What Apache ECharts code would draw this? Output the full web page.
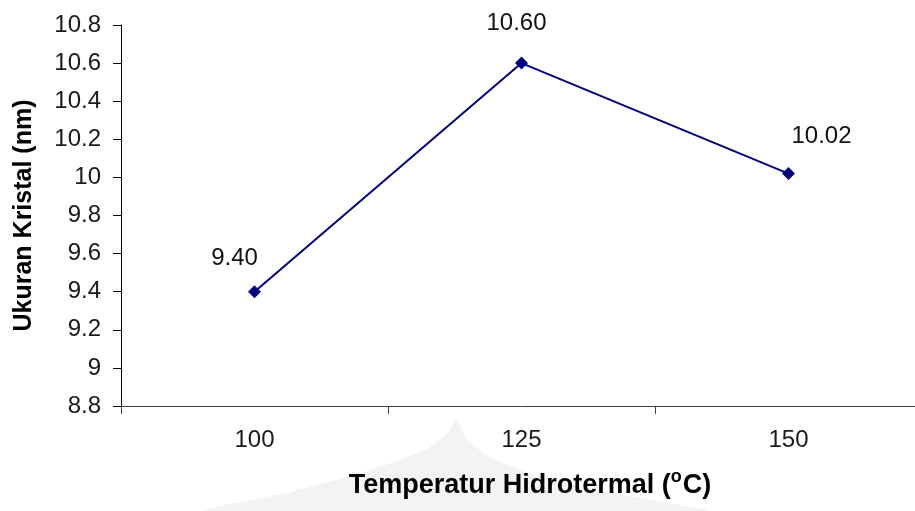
<!DOCTYPE html>
<html>
<head>
<meta charset="utf-8">
<script src="https://cdn.jsdelivr.net/npm/echarts@6/dist/echarts.min.js"></script>
<style>
  html, body { margin: 0; padding: 0; background: #ffffff; overflow: hidden; }
  /* plot area runs slightly past the right edge of the window */
  #chart { width: 922px; height: 511px; }
</style>
</head>
<body>
<div id="chart"></div>
<script>
// Hydrothermal temperature (°C) vs. crystal size (nm)
const categories = ['100', '125', '150'];
const crystalSize = [9.40, 10.60, 10.02];
const labelOffsets = [[-20, 0], [-5, -6], [33, -4]];

const chart = echarts.init(document.getElementById('chart'), null, { renderer: 'canvas' });

const font = '"Liberation Sans", Arial, sans-serif';

const seriesData = crystalSize.map((v, i) => ({
  value: v,
  label: { offset: labelOffsets[i] }
}));

chart.setOption({
  animation: false,
  backgroundColor: '#ffffff',
  grid: { left: 121, top: 25, bottom: 105, right: 0, containLabel: false },
  graphic: [{
    // faint emblem in the page background
    type: 'polygon',
    z: -10,
    silent: true,
    shape: {
      smooth: 0.25,
      points: [[457, 420], [466, 438], [495, 460], [560, 482], [640, 498], [705, 511],
               [205, 511], [290, 492], [370, 470], [425, 450], [447, 434]]
    },
    style: { fill: '#f3f3f3' }
  }],
  xAxis: {
    type: 'category',
    data: categories,
    boundaryGap: true,
    axisLine: { lineStyle: { color: '#404040', width: 1 } },
    axisTick: { show: true, length: 8, inside: false, lineStyle: { color: '#404040' } },
    axisLabel: { color: '#1a1a1a', fontFamily: font, fontSize: 24, margin: 22 },
    name: '{t|Temperatur Hidrotermal (}{sup|o}{t|C)}',
    nameLocation: 'middle',
    nameGap: 62,
    nameTextStyle: {
      color: '#000000',
      fontFamily: font,
      fontSize: 27,
      fontWeight: 'bold',
      padding: [0, 0, 0, 17],
      rich: {
        t: {
          fontFamily: font,
          fontSize: 27,
          fontWeight: 'bold',
          color: '#000000',
          lineHeight: 31,
          verticalAlign: 'bottom'
        },
        sup: {
          fontFamily: font,
          fontSize: 18,
          fontWeight: 'bold',
          color: '#000000',
          lineHeight: 18,
          verticalAlign: 'top',
          padding: [0, 1, 0, 0]
        }
      }
    },
    splitLine: { show: false }
  },
  yAxis: {
    type: 'value',
    min: 8.8,
    max: 10.8,
    interval: 0.2,
    axisLine: { show: true, lineStyle: { color: '#000000', width: 1 } },
    axisTick: { show: true, length: 8, lineStyle: { color: '#000000' } },
    axisLabel: {
      color: '#1a1a1a',
      fontFamily: font,
      fontSize: 24,
      margin: 20,
      formatter: v => String(parseFloat(v.toFixed(1)))
    },
    splitLine: { show: false },
    name: 'Ukuran Kristal (nm)',
    nameLocation: 'middle',
    nameRotate: 90,
    nameGap: 84,
    nameTextStyle: {
      color: '#000000',
      fontFamily: font,
      fontSize: 25,
      fontWeight: 'bold'
    }
  },
  series: [{
    type: 'line',
    data: seriesData,
    symbol: 'diamond',
    symbolSize: 13,
    lineStyle: { color: '#000080', width: 2 },
    itemStyle: { color: '#000080' },
    label: {
      show: true,
      position: 'top',
      distance: 15,
      color: '#111111',
      fontFamily: font,
      fontSize: 24,
      formatter: p => p.value.toFixed(2)
    }
  }]
});
</script>
</body>
</html>
